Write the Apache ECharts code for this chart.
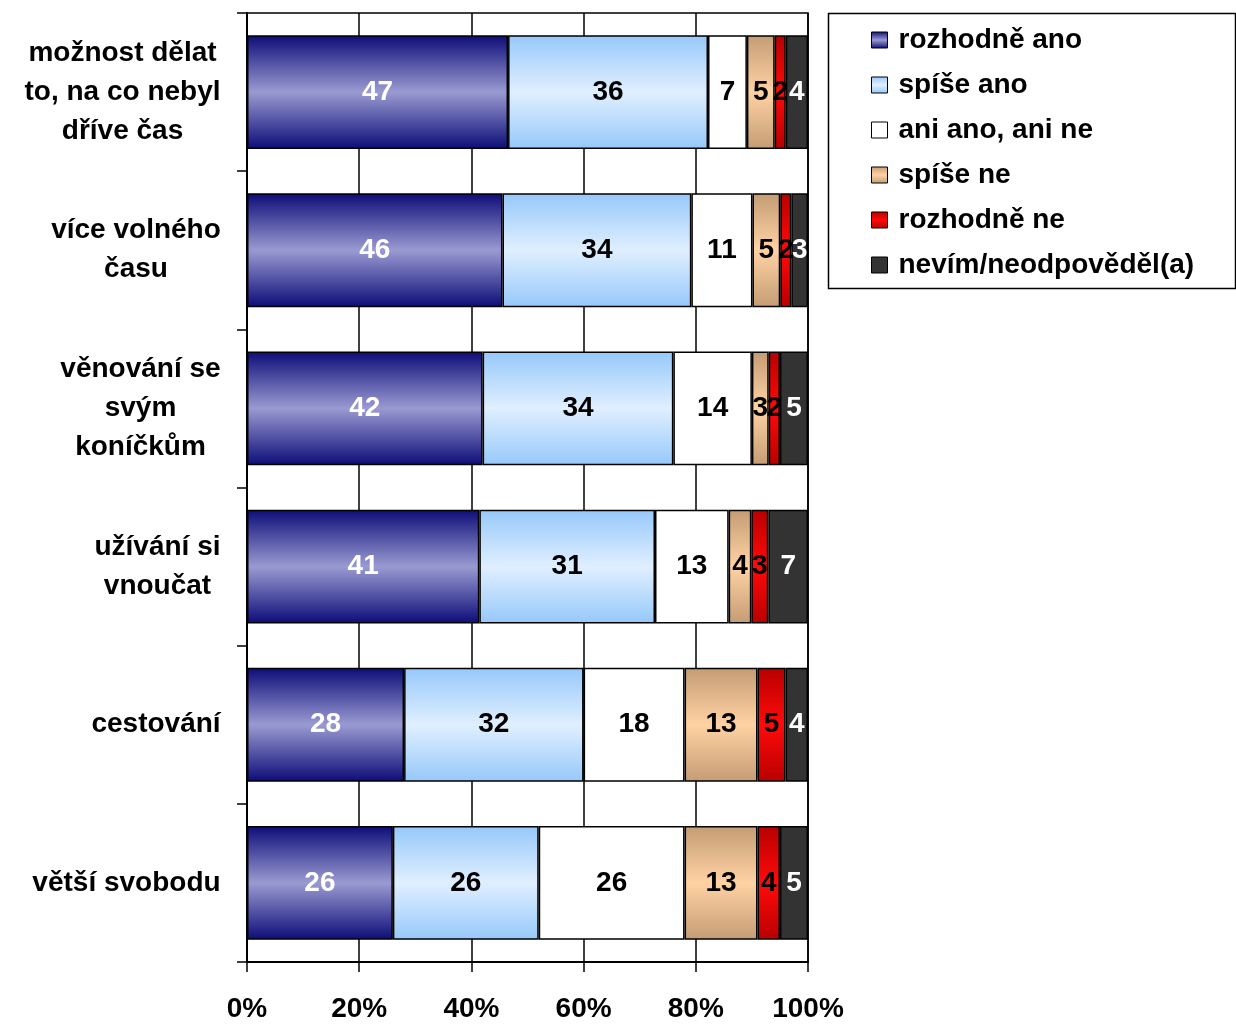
<!DOCTYPE html>
<html>
<head>
<meta charset="utf-8">
<script src="https://cdn.jsdelivr.net/npm/echarts@6/dist/echarts.min.js"></script>
<style>
  html, body { margin: 0; padding: 0; background: #fff; }
  #chart { width: 1236px; height: 1025px; }
</style>
</head>
<body>
<div id="chart"></div>
<script>
// categories, top to bottom
const categories = [
  'možnost dělat\nto, na co nebyl\ndříve čas',
  'více volného\nčasu',
  'věnování se\nsvým\nkoníčkům',
  'užívání si\nvnoučat',
  'cestování',
  'větší svobodu'
];

const seriesNames = [
  'rozhodně ano',
  'spíše ano',
  'ani ano, ani ne',
  'spíše ne',
  'rozhodně ne',
  'nevím/neodpověděl(a)'
];

// raw answers (%) per category, as printed on the bars
const rozhodneAno = [47, 46, 42, 41, 28, 26];
const spiseAno    = [36, 34, 34, 31, 32, 26];
const aniAniNe    = [7, 11, 14, 13, 18, 26];
const spiseNe     = [5, 5, 3, 4, 13, 13];
const rozhodneNe  = [2, 2, 2, 3, 5, 4];
const nevim       = [4, 3, 5, 7, 4, 5];

const rawValues = [rozhodneAno, spiseAno, aniAniNe, spiseNe, rozhodneNe, nevim];

const FONT = '"Liberation Sans", Arial, sans-serif';
const FS = 28;

// 100% stacked: each row is scaled by its own total, as Excel does
const totals = categories.map((_, i) => rawValues.reduce((s, arr) => s + arr[i], 0));

const grad = (edge, mid) => new echarts.graphic.LinearGradient(0, 0, 0, 1, [
  { offset: 0, color: edge },
  { offset: 0.5, color: mid },
  { offset: 1, color: edge }
]);

const fills = [
  grad('#0c0c78', '#9a9ad2'),
  grad('#96c8fa', '#e0efff'),
  '#ffffff',
  grad('#c49c74', '#ffd2a4'),
  grad('#b80000', '#ff0a0a'),
  '#333333'
];
const labelColors = ['#fff', '#000', '#000', '#000', '#000', '#fff'];

// category labels: lines centred inside a block that is right-aligned to the axis
const ctx = document.createElement('canvas').getContext('2d');
ctx.font = 'bold ' + FS + 'px ' + FONT;
const rich = {};
categories.forEach((c, i) => {
  const w = Math.max(...c.split('\n').map(l => ctx.measureText(l).width));
  rich['c' + i] = {
    width: Math.ceil(w) + 2, align: 'center', fontSize: FS, fontWeight: 'bold',
    fontFamily: FONT, color: '#000', lineHeight: 39
  };
});

const chart = echarts.init(document.getElementById('chart'), null, { renderer: 'canvas' });

chart.setOption({
  animation: false,
  backgroundColor: '#fff',
  grid: {
    left: 247, right: 428, top: 13, bottom: 63,
    show: true, borderColor: '#000', borderWidth: 1.5, backgroundColor: 'transparent'
  },
  // legend frame
  graphic: [{
    type: 'rect',
    shape: { x: 828.5, y: 13.5, width: 407, height: 275 },
    style: { fill: 'none', stroke: '#000', lineWidth: 1.5 }
  }],
  legend: {
    orient: 'vertical',
    left: 828, top: 13,
    padding: [13, 10, 11, 43],
    itemGap: 17,
    itemWidth: 16, itemHeight: 16,
    icon: 'rect',
    textStyle: { fontSize: FS, fontWeight: 'bold', fontFamily: FONT, color: '#000', lineHeight: 28, padding: [0, 0, 0, 6] },
    itemStyle: { borderColor: '#000', borderWidth: 1 },
    data: seriesNames
  },
  xAxis: {
    type: 'value', min: 0, max: 100, interval: 20,
    axisLine: { show: true, lineStyle: { color: '#000', width: 2 } },
    axisTick: { show: true, length: 10, lineStyle: { color: '#000', width: 1.5 } },
    axisLabel: { formatter: '{value}%', margin: 33, fontSize: FS, fontWeight: 'bold', fontFamily: FONT, color: '#000' },
    splitLine: { show: true, lineStyle: { color: '#000', width: 1.5 } }
  },
  yAxis: {
    type: 'category', inverse: true, data: categories,
    axisLine: { show: true, lineStyle: { color: '#000', width: 2 } },
    axisTick: { show: true, length: 10, lineStyle: { color: '#000', width: 1.5 } },
    axisLabel: {
      margin: 25,
      formatter: (v, i) => v.split('\n').map(l => '{c' + i + '|' + l + '}').join('\n'),
      rich: rich
    }
  },
  series: seriesNames.map((name, s) => ({
    name: name,
    type: 'bar',
    stack: 'total',
    barCategoryGap: '28%',
    itemStyle: { color: fills[s], borderColor: '#000', borderWidth: 1.5 },
    label: {
      show: true, position: 'inside',
      color: labelColors[s], fontSize: FS, fontWeight: 'bold', fontFamily: FONT,
      formatter: p => String(rawValues[s][p.dataIndex])
    },
    data: rawValues[s].map((v, i) => v / totals[i] * 100)
  }))
});
</script>
</body>
</html>
